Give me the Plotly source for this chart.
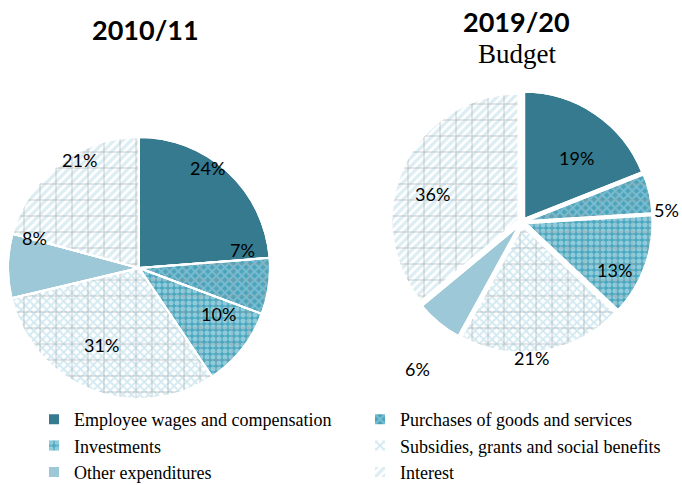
import plotly.graph_objects as go

# Expenditure categories and their shares (%) in each year
categories = [
    "Employee wages and compensation",
    "Purchases of goods and services",
    "Investments",
    "Subsidies, grants and social benefits",
    "Other expenditures",
    "Interest",
]
share_2010 = [24, 7, 10, 31, 8, 21]
share_2019 = [19, 5, 13, 21, 6, 36]

# Slice styling
base_colors = ["#357a8e", "#4ba3bb", "#4aa8c0", "#ffffff", "#9dc8d8", "#ffffff"]
pattern_shapes = ["", "x", ".", "x", "", "/"]
pattern_fg = ["#357a8e", "#a9d8e6", "#d6eef5", "#a8d4e4", "#9dc8d8", "#b9dbe7"]
grid_shapes = ["", "+", "+", "+", "", "+"]
GRID = "#9c9c9c"

# Percentage label offsets (px) from each pie's centre
label_offsets_2010 = [(68, -100), (103, -18), (79, 46), (-38, 77), (-105, -30), (-60, -108)]
label_offsets_2019 = [(54, -64), (144, -12), (92, 48), (9, 136), (-105, 147), (-90, -28)]

W, H = 682, 485
LABEL_FONT = dict(family="Lato, Carlito, sans-serif", size=18, color="black")
SERIF = "Liberation Serif, Times New Roman, serif"


def box(cx, cy, half):
    """Square pixel box around a centre -> paper domain."""
    return dict(x=[(cx - half) / W, (cx + half) / W],
                y=[1 - (cy + half) / H, 1 - (cy - half) / H])


def pie_pair(values, domain, pull, showlegend):
    common = dict(labels=categories, values=values, domain=domain, sort=False,
                  direction="clockwise", rotation=0, pull=pull,
                  textinfo="none", hoverinfo="skip")
    base = go.Pie(
        **common,
        marker=dict(
            colors=base_colors,
            line=dict(color="white", width=2),
            pattern=dict(shape=pattern_shapes, fgcolor=pattern_fg, size=6,
                         solidity=0.55, fillmode="overlay"),
        ),
        showlegend=showlegend,
    )
    grid = go.Pie(
        **common,
        marker=dict(
            colors=["rgba(0,0,0,0)"] * len(categories),
            line=dict(color="white", width=2),
            pattern=dict(shape=grid_shapes, fgcolor=GRID, size=16,
                         solidity=0.13, fillmode="overlay"),
        ),
        showlegend=False,
    )
    return [base, grid]


def pct_labels(values, centre, offsets):
    cx, cy = centre
    return [
        dict(text=f"{v}%", x=(cx + dx) / W, y=1 - (cy + dy) / H,
             xref="paper", yref="paper", xanchor="center", yanchor="middle",
             showarrow=False, font=LABEL_FONT)
        for v, (dx, dy) in zip(values, offsets)
    ]


left_c, left_r, left_pull = (139, 268), 131, 0
right_c, right_r, right_pull = (522, 222), 127, 0.03

fig = go.Figure()
fig.add_traces(pie_pair(share_2010, box(*left_c, left_r * (1 + left_pull)), left_pull, True))
fig.add_traces(pie_pair(share_2019, box(*right_c, right_r * (1 + right_pull)), right_pull, False))

titles = [
    dict(text="<b>2010/11</b>", x=145 / W, y=1 - 29 / H,
         font=dict(family="Lato, Carlito, sans-serif", size=27, color="black")),
    dict(text="<b>2019/20</b>", x=516 / W, y=1 - 22 / H,
         font=dict(family="Lato, Carlito, sans-serif", size=27, color="black")),
    dict(text="Budget", x=517 / W, y=1 - 54 / H,
         font=dict(family=SERIF, size=27, color="black")),
]
for t in titles:
    t.update(xref="paper", yref="paper", xanchor="center", yanchor="middle", showarrow=False)

fig.update_layout(
    width=W,
    height=H,
    margin=dict(l=0, r=0, t=0, b=0, autoexpand=False),
    paper_bgcolor="white",
    plot_bgcolor="white",
    legend=dict(
        orientation="h",
        x=34 / W,
        xanchor="left",
        y=1 - 401 / H,
        yanchor="top",
        entrywidth=281,
        entrywidthmode="pixels",
        font=dict(family=SERIF, size=18, color="black"),
        traceorder="normal",
        bgcolor="rgba(0,0,0,0)",
    ),
    annotations=titles
    + pct_labels(share_2010, left_c, label_offsets_2010)
    + pct_labels(share_2019, right_c, label_offsets_2019),
)

fig.write_html("out.html")
